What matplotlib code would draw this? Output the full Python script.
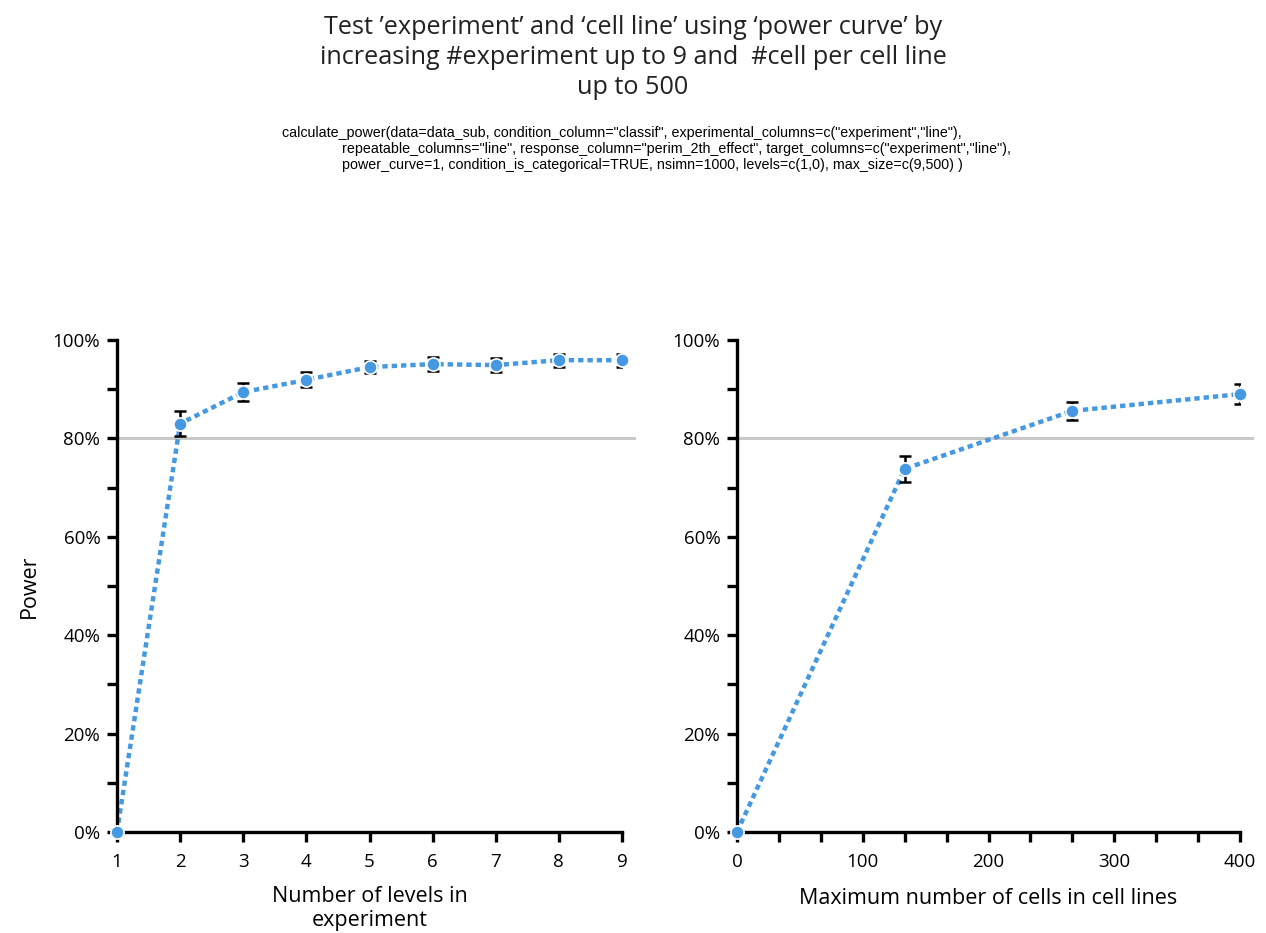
import numpy as np
import matplotlib
matplotlib.use('Agg')
import matplotlib.pyplot as plt
from matplotlib.ticker import FuncFormatter, MultipleLocator

#字体
plt.rcParams['font.family'] = ['Open Sans', 'DejaVu Sans']

#左图数据: 实验层数
levels = [1, 2, 3, 4, 5, 6, 7, 8, 9]
power_levels = [0.0, 83.0, 89.4, 91.9, 94.5, 95.1, 94.9, 95.9, 95.9]
err_levels = [0.0, 2.5, 1.8, 1.5, 1.3, 1.4, 1.4, 1.3, 1.3]

#右图数据: 细胞数
cells = [0, 133.3, 266.7, 400]
power_cells = [0.0, 73.8, 85.6, 89.0]
err_cells = [0.0, 2.6, 1.8, 2.0]

title = ("Test \u2019experiment\u2019 and \u2018cell line\u2019 using \u2018power curve\u2019 by\n"
         "increasing #experiment up to 9 and  #cell per cell line\nup to 500")
code_lines = [
    'calculate_power(data=data_sub, condition_column="classif", experimental_columns=c("experiment","line"),',
    'repeatable_columns="line", response_column="perim_2th_effect", target_columns=c("experiment","line"),',
    'power_curve=1, condition_is_categorical=TRUE, nsimn=1000, levels=c(1,0), max_size=c(9,500) )',
]

blue = '#4499e0'
grey = '#c8c8c8'


def style_axis(ax):
    """坐标轴样式"""
    for s in ['top', 'right']:
        ax.spines[s].set_visible(False)
    for s in ['left', 'bottom']:
        ax.spines[s].set_linewidth(2.4)
    ax.set_ylim(0, 100)
    ax.yaxis.set_major_locator(MultipleLocator(20))
    ax.yaxis.set_minor_locator(MultipleLocator(10))
    ax.yaxis.set_major_formatter(FuncFormatter(lambda v, p: '{:.0f}%'.format(v)))
    ax.tick_params(which='both', direction='out', width=2.4, length=7, labelsize=13.5,
                   colors='black')
    ax.tick_params(axis='x', pad=8)
    ax.tick_params(axis='y', pad=5)
    ax.set_facecolor('none')


def draw_curve(ax, x, y, e):
    ax.axhline(80, xmin=0, xmax=1.024, color=grey, lw=2.2, clip_on=False, zorder=1)
    ax.plot(x, y, linestyle=(0, (1.2, 0.9)), color=blue, lw=3.2, zorder=2, clip_on=False)
    ax.errorbar(x[1:], y[1:], yerr=e[1:], fmt='none', ecolor='black', elinewidth=1.8,
                capsize=4, capthick=1.8, zorder=3)
    ax.plot(x, y, 'o', color=blue, markersize=9.5, markeredgecolor='white',
            markeredgewidth=1.2, zorder=4, clip_on=False)


fig = plt.figure(figsize=(12.66, 9.33), dpi=100)

ax1 = fig.add_axes([117 / 1266, 101 / 933, 505 / 1266, 492 / 933])
ax2 = fig.add_axes([737 / 1266, 101 / 933, 503 / 1266, 492 / 933])

style_axis(ax1)
ax1.set_xlim(1, 9)
ax1.set_xticks(levels)
draw_curve(ax1, levels, power_levels, err_levels)
ax1.set_xlabel('Number of levels in\nexperiment', fontsize=15.5, labelpad=11, linespacing=1.2)
ax1.set_ylabel('Power', fontsize=15.5, labelpad=9)

style_axis(ax2)
ax2.set_xlim(0, 400)
ax2.xaxis.set_major_locator(MultipleLocator(100))
ax2.xaxis.set_minor_locator(MultipleLocator(400 / 12))
draw_curve(ax2, cells, power_cells, err_cells)
ax2.set_xlabel('Maximum number of cells in cell lines', fontsize=15.5, labelpad=12)

#标题
fig.text(0.5, 0.984, title, ha='center', va='top', fontsize=18.2, color='#222222', linespacing=1.26)

#代码说明
code_font = ['Liberation Sans Narrow', 'Liberation Sans', 'DejaVu Sans']
fig.text(282 / 1266, 1 - 133 / 933, code_lines[0], ha='left', va='center', fontsize=10.3,
         family=code_font)
fig.text(342 / 1266, 1 - 149 / 933, code_lines[1], ha='left', va='center', fontsize=10.3,
         family=code_font)
fig.text(342 / 1266, 1 - 165 / 933, code_lines[2], ha='left', va='center', fontsize=10.3,
         family=code_font)

fig.savefig('out.png', dpi=100, facecolor='white')
